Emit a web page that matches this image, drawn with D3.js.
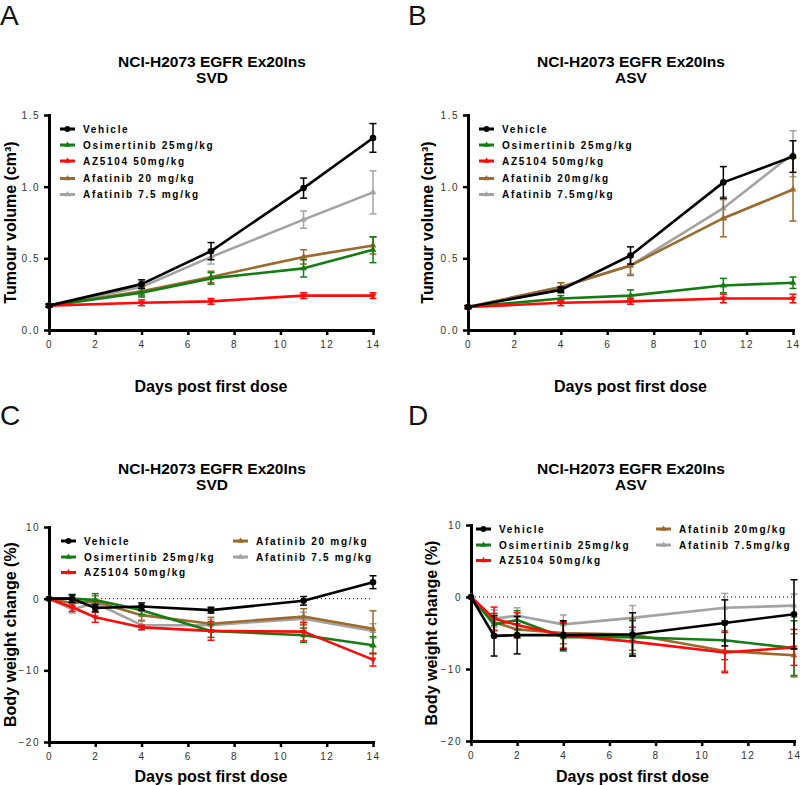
<!DOCTYPE html>
<html><head><meta charset="utf-8">
<script src="https://cdn.jsdelivr.net/npm/d3@7"></script>
<style>
body{margin:0;background:#fff;}
text{font-family:"Liberation Sans",Arial,sans-serif;}
</style></head>
<body><svg id="c" width="800" height="785"></svg>
<script>
// ---------- DATA ----------
const daysTV = [0, 4, 7, 11, 14];
const daysBW = [0, 1, 2, 4, 7, 11, 14];
const xTicks = [0, 2, 4, 6, 8, 10, 12, 14];
const tvTicks = [0, 0.5, 1.0, 1.5];
const bwTicks = [-20, -10, 0, 10];
const seriesKeys = ["Vehicle", "Osimertinib", "AZ5104", "Afatinib20", "Afatinib7.5"];
const colors = ["#000000", "#137d13", "#ff0a0a", "#9c6a2c", "#a3a3a3"];
const legendLabelsSVD = ["Vehicle", "Osimertinib 25mg/kg", "AZ5104 50mg/kg", "Afatinib 20 mg/kg", "Afatinib 7.5 mg/kg"];
const legendLabelsASV = ["Vehicle", "Osimertinib 25mg/kg", "AZ5104 50mg/kg", "Afatinib 20mg/kg", "Afatinib 7.5mg/kg"];

// Panel A: tumour volume, SVD (order: Vehicle, Osimertinib, AZ5104, Afatinib20, Afatinib7.5)
const aMean = [
  [0.17, 0.32, 0.55, 0.99, 1.34],
  [0.17, 0.26, 0.36, 0.43, 0.56],
  [0.17, 0.19, 0.20, 0.24, 0.24],
  [0.17, 0.27, 0.37, 0.51, 0.59],
  [0.17, 0.30, 0.51, 0.77, 0.96]
];
const aErr = [
  [0.01, 0.03, 0.06, 0.07, 0.10],
  [0.01, 0.03, 0.04, 0.06, 0.09],
  [0.01, 0.02, 0.02, 0.02, 0.02],
  [0.01, 0.03, 0.04, 0.05, 0.06],
  [0.01, 0.03, 0.05, 0.06, 0.15]
];
// Panel B: tumour volume, ASV
const bMean = [
  [0.16, 0.28, 0.52, 1.03, 1.21],
  [0.16, 0.22, 0.24, 0.31, 0.33],
  [0.16, 0.19, 0.20, 0.22, 0.22],
  [0.16, 0.30, 0.45, 0.78, 0.98],
  [0.16, 0.30, 0.45, 0.85, 1.23]
];
const bErr = [
  [0.01, 0.02, 0.06, 0.11, 0.11],
  [0.01, 0.02, 0.04, 0.05, 0.04],
  [0.01, 0.02, 0.02, 0.03, 0.03],
  [0.01, 0.03, 0.07, 0.13, 0.22],
  [0.01, 0.03, 0.06, 0.08, 0.16]
];
// Panel C: body weight change, SVD
const cMean = [
  [0, 0.0, -1.3, -1.1, -1.6, -0.3, 2.3],
  [0, 0.0, -0.2, -1.6, -4.5, -5.1, -6.5],
  [0, -1.2, -2.6, -4.0, -4.5, -4.6, -8.5],
  [0, -0.6, -0.4, -2.3, -3.5, -2.5, -4.2],
  [0, -1.5, -0.6, -3.7, -3.7, -2.8, -4.5]
];
const cErr = [
  [0, 0.5, 0.5, 0.5, 0.4, 0.6, 0.9],
  [0, 0.6, 0.9, 0.6, 0.9, 1.0, 1.2],
  [0, 0.6, 0.7, 0.3, 1.3, 1.3, 0.9],
  [0, 0.5, 0.8, 0.8, 0.9, 1.1, 2.5],
  [0, 0.5, 0.6, 0.7, 0.8, 0.9, 1.0]
];
// Panel D: body weight change, ASV
const dMean = [
  [0, -5.4, -5.3, -5.3, -5.2, -3.6, -2.4],
  [0, -3.8, -3.2, -5.6, -5.6, -6.0, -7.1],
  [0, -3.0, -3.9, -5.3, -6.2, -7.7, -7.0],
  [0, -3.5, -4.5, -5.0, -5.2, -7.5, -8.1],
  [0, -3.0, -2.6, -3.8, -2.9, -1.5, -1.2]
];
const dErr = [
  [0, 2.8, 2.6, 2.0, 3.0, 3.2, 4.8],
  [0, 1.5, 1.3, 1.9, 2.3, 2.7, 3.8],
  [0, 1.6, 1.7, 1.8, 2.0, 2.8, 2.5],
  [0, 1.2, 1.2, 1.5, 2.2, 2.8, 3.0],
  [0, 1.2, 1.1, 1.3, 1.7, 2.0, 1.6]
];

// ---------- DRAW ----------
const svg = d3.select("#c");
const drawOrder = [4, 3, 1, 2, 0];

function drawPanel(o) {
  const g = svg.append("g");
  const x = d3.scaleLinear().domain([0, 14]).range([o.x0, o.x1]);
  const y = d3.scaleLinear().domain(o.yDomain).range([o.yB, o.yT]);

  g.append("text").attr("x", o.letterX).attr("y", o.letterY).text(o.letter)
    .attr("font-size", 28).attr("fill", "#111");
  g.append("text").attr("x", o.titleX).attr("y", o.titleY).attr("text-anchor", "middle")
    .attr("font-size", 15.5).attr("font-weight", "bold").text("NCI-H2073 EGFR Ex20Ins");
  g.append("text").attr("x", o.titleX).attr("y", o.titleY + 16).attr("text-anchor", "middle")
    .attr("font-size", 15.5).attr("font-weight", "bold").text(o.sub);

  if (o.zeroLine) {
    g.append("line").attr("x1", o.x0).attr("x2", o.x1).attr("y1", y(0)).attr("y2", y(0))
      .attr("stroke", "#000").attr("stroke-width", 1).attr("stroke-dasharray", "1,3");
  }

  const xa = g.append("g").attr("transform", `translate(0,${o.yB})`)
    .call(d3.axisBottom(x).tickValues(xTicks).tickSize(5).tickPadding(6).tickSizeOuter(0));
  const ya = g.append("g").attr("transform", `translate(${o.x0},0)`)
    .call(d3.axisLeft(y).tickValues(o.yTicks).tickFormat(o.fmt).tickSize(5).tickPadding(4).tickSizeOuter(0));
  [xa, ya].forEach(a => {
    a.select(".domain").attr("stroke", "#000").attr("stroke-width", 3).attr("stroke-linecap", "square");
    a.selectAll(".tick line").attr("stroke", "#000").attr("stroke-width", 2.5);
    a.selectAll(".tick text").attr("font-size", 10).attr("fill", "#333")
      .style("letter-spacing", "1.5px").attr("font-family", "Liberation Sans, Arial, sans-serif");
  });
  ya.selectAll(".tick text").attr("dy", "0.35em");

  g.append("text").attr("x", (o.x0 + o.x1) / 2).attr("y", o.xLabelY).attr("text-anchor", "middle")
    .attr("font-size", 16).attr("font-weight", "bold").text("Days post first dose");
  g.append("text").attr("transform", `translate(${o.yLabelX},${(o.yB + o.yT) / 2}) rotate(-90)`)
    .attr("text-anchor", "middle").attr("font-size", 16).attr("font-weight", "bold")
    .text(o.yLabel);

  const line = d3.line().x((d, i) => x(o.days[i])).y(d => y(d));
  drawOrder.forEach(s => {
    const c = colors[s];
    const sg = g.append("g");
    o.mean[s].forEach((m, i) => {
      const e = o.err[s][i];
      if (e <= 0) return;
      const cx = x(o.days[i]);
      sg.append("line").attr("x1", cx).attr("x2", cx).attr("y1", y(m - e)).attr("y2", y(m + e))
        .attr("stroke", c).attr("stroke-width", 1.5);
      [m - e, m + e].forEach(v => sg.append("line").attr("x1", cx - 3.5).attr("x2", cx + 3.5)
        .attr("y1", y(v)).attr("y2", y(v)).attr("stroke", c).attr("stroke-width", 1.5));
    });
    sg.append("path").datum(o.mean[s]).attr("d", line).attr("fill", "none")
      .attr("stroke", c).attr("stroke-width", 2.6).attr("stroke-linejoin", "round");
    const sym = s === 0 ? d3.symbolCircle : d3.symbolTriangle;
    const size = s === 0 ? 34 : 20;
    o.mean[s].forEach((m, i) => {
      sg.append("path").attr("d", d3.symbol().type(sym).size(size)())
        .attr("transform", `translate(${x(o.days[i])},${y(m)})${s === 2 ? " rotate(180)" : ""}`)
        .attr("fill", c);
    });
  });

  o.legend.forEach(L => {
    const s = L.s;
    const c = colors[s];
    g.append("line").attr("x1", L.x).attr("x2", L.x + 15).attr("y1", L.y).attr("y2", L.y)
      .attr("stroke", c).attr("stroke-width", 3);
    const sym = s === 0 ? d3.symbolCircle : d3.symbolTriangle;
    g.append("path").attr("d", d3.symbol().type(sym).size(s === 0 ? 26 : 16)())
      .attr("transform", `translate(${L.x + 7.5},${L.y})`).attr("fill", c);
    g.append("text").attr("x", L.x + 23).attr("y", L.y).attr("dy", "0.36em")
      .attr("font-size", 10).attr("font-weight", "bold").style("letter-spacing", "1.7px")
      .text(o.labels[s]);
  });
}

const legendTop = (lx, ly) => [0, 1, 2, 3, 4].map(s => ({s, x: lx, y: ly + [0, 16, 32, 49.5, 65.5][s]}));
const legendBottom = (lx1, lx2, ly) => [
  {s: 0, x: lx1, y: ly}, {s: 1, x: lx1, y: ly + 16}, {s: 2, x: lx1, y: ly + 31.5},
  {s: 3, x: lx2, y: ly}, {s: 4, x: lx2, y: ly + 16}
];

drawPanel({letter: "A", letterX: 0, letterY: 25, titleX: 212, titleY: 67, sub: "SVD",
  x0: 49, x1: 373, yB: 330, yT: 115, yDomain: [0, 1.5], yTicks: tvTicks, fmt: d3.format(".1f"),
  days: daysTV, mean: aMean, err: aErr, xLabelY: 392, yLabelX: 16, yLabel: "Tumour volume (cm³)",
  labels: legendLabelsSVD, legend: legendTop(60, 129)});
drawPanel({letter: "B", letterX: 408, letterY: 25, titleX: 631, titleY: 67, sub: "ASV",
  x0: 468, x1: 793, yB: 330, yT: 115, yDomain: [0, 1.5], yTicks: tvTicks, fmt: d3.format(".1f"),
  days: daysTV, mean: bMean, err: bErr, xLabelY: 392, yLabelX: 433, yLabel: "Tumour volume (cm³)",
  labels: legendLabelsASV, legend: legendTop(479, 129)});
drawPanel({letter: "C", letterX: 0, letterY: 425, titleX: 212, titleY: 474, sub: "SVD",
  x0: 49, x1: 373, yB: 742, yT: 527, yDomain: [-20, 10], yTicks: bwTicks, fmt: d3.format("d"),
  days: daysBW, mean: cMean, err: cErr, xLabelY: 782, yLabelX: 16, yLabel: "Body weight change (%)",
  zeroLine: true, labels: legendLabelsSVD, legend: legendBottom(61, 233, 541)});
drawPanel({letter: "D", letterX: 408, letterY: 425, titleX: 631, titleY: 474, sub: "ASV",
  x0: 471, x1: 794, yB: 741, yT: 525, yDomain: [-20, 10], yTicks: bwTicks, fmt: d3.format("d"),
  days: daysBW, mean: dMean, err: dErr, xLabelY: 782, yLabelX: 437, yLabel: "Body weight change (%)",
  zeroLine: true, labels: legendLabelsASV, legend: legendBottom(476, 656, 529)});
</script></body></html>
